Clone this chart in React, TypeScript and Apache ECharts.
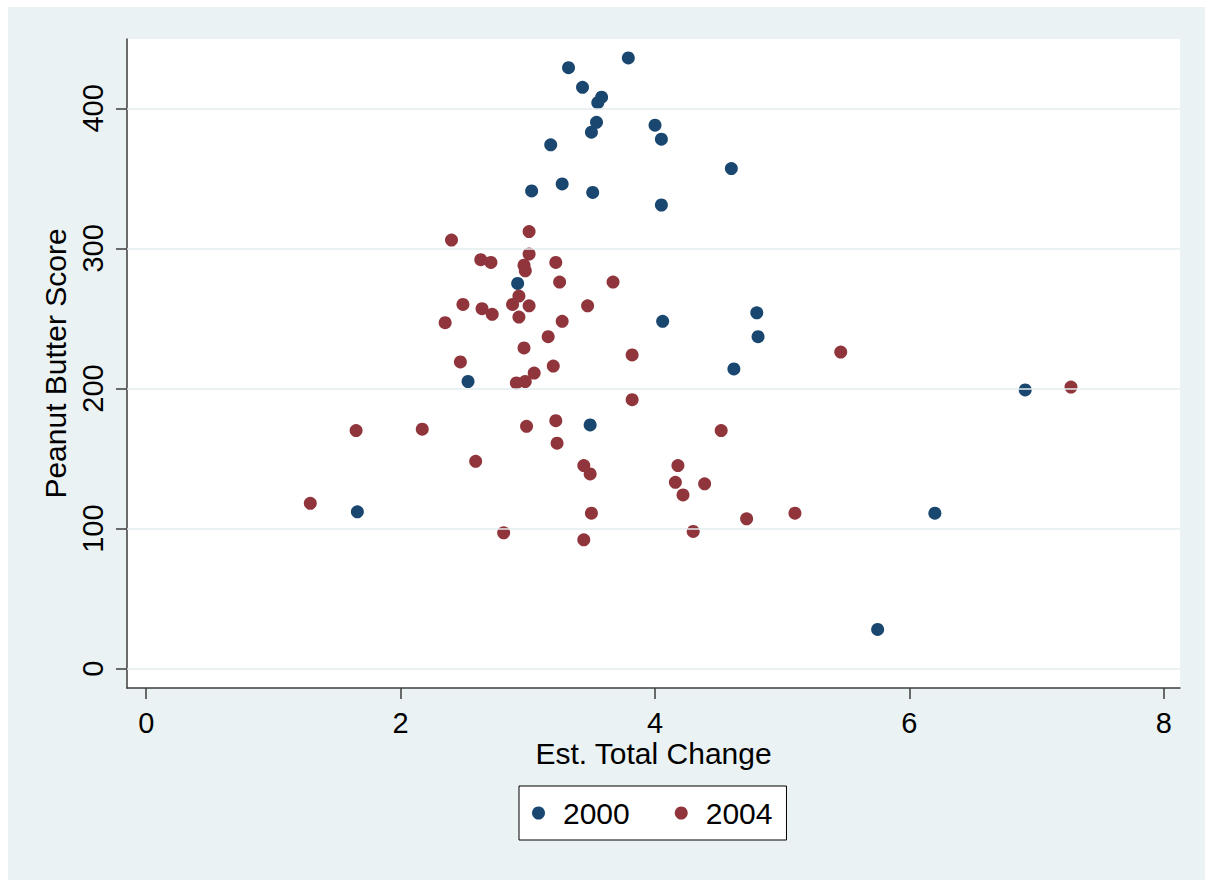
import React, { useEffect, useRef } from "react";
import * as echarts from "echarts";

const seriesNames = ["2000", "2004"];
const seriesColors = ["#1A476F", "#90353B"];

const points2000: [number, number][] = [
  [3.79, 436], [3.32, 429], [3.43, 415], [3.58, 408], [3.55, 404],
  [3.54, 390], [3.50, 383], [4.00, 388], [4.05, 378], [3.18, 374],
  [4.60, 357], [3.27, 346], [3.03, 341], [3.51, 340], [4.05, 331],
  [2.92, 275], [4.80, 254], [4.06, 248], [4.81, 237], [4.62, 214],
  [2.53, 205], [6.91, 199], [3.49, 174], [1.66, 112], [6.20, 111],
  [5.75, 28],
];

const points2004: [number, number][] = [
  [3.01, 312], [2.40, 306], [2.63, 292], [2.71, 290], [3.01, 296],
  [2.97, 288], [2.98, 284], [3.22, 290], [3.25, 276], [3.67, 276],
  [2.93, 266], [2.88, 260], [3.01, 259], [2.49, 260], [2.64, 257],
  [2.72, 253], [2.35, 247], [2.93, 251], [3.27, 248], [3.47, 259],
  [3.16, 237], [2.97, 229], [2.47, 219], [3.20, 216], [3.05, 211],
  [2.98, 205], [2.91, 204], [3.82, 224], [3.82, 192], [1.65, 170],
  [2.17, 171], [2.99, 173], [3.22, 177], [3.23, 161], [4.52, 170],
  [2.59, 148], [3.44, 145], [3.49, 139], [4.18, 145], [4.16, 133],
  [4.39, 132], [4.22, 124], [1.29, 118], [3.50, 111], [4.72, 107],
  [2.81, 97], [3.44, 92], [4.30, 98], [5.10, 111], [5.46, 226],
  [7.27, 201],
];

const xTicks = [0, 2, 4, 6, 8];
const yTicks = [0, 100, 200, 300, 400];
const xRange = [-0.151, 8.127];
const yRange = [-13.8, 449.5];

const xTitle = "Est. Total Change";
const yTitle = "Peanut Butter Score";

const FONT = "'Liberation Sans', Arial, sans-serif";
const AXIS_COLOR = "#3c3c3c";

export default function App() {
  const ref = useRef<HTMLDivElement>(null);

  useEffect(() => {
    if (!ref.current) return;
    const chart = echarts.init(ref.current, null, { renderer: "svg" });
    const axisCommon = {
      axisLine: { show: true, onZero: false, lineStyle: { color: AXIS_COLOR, width: 1.5 } },
      axisTick: { show: true, length: 11, lineStyle: { color: AXIS_COLOR, width: 1.5 } },
      splitLine: { show: false },
      nameTextStyle: { fontFamily: FONT, fontSize: 30, color: "#000" },
      nameMoveOverlap: false,
    };
    chart.setOption({
      animation: false,
      backgroundColor: "#EAF2F3",
      textStyle: { fontFamily: FONT },
      grid: {
        left: 119,
        top: 32,
        right: 25,
        bottom: 192,
        show: true,
        backgroundColor: "#ffffff",
        borderWidth: 0,
      },
      xAxis: {
        type: "value",
        min: xRange[0],
        max: xRange[1],
        ...axisCommon,
        axisTick: { ...axisCommon.axisTick, customValues: xTicks },
        axisLabel: {
          customValues: xTicks,
          fontFamily: FONT,
          fontSize: 29,
          color: "#000",
          margin: 20,
        },
        name: xTitle,
        nameLocation: "middle",
        nameGap: 50,
      },
      yAxis: {
        type: "value",
        min: yRange[0],
        max: yRange[1],
        ...axisCommon,
        axisTick: { ...axisCommon.axisTick, customValues: yTicks },
        axisLabel: {
          customValues: yTicks,
          fontFamily: FONT,
          fontSize: 29,
          color: "#000",
          rotate: 90,
          margin: 20,
        },
        name: yTitle,
        nameLocation: "middle",
        nameGap: 57,
      },
      legend: {
        data: seriesNames,
        left: 511,
        top: 779,
        orient: "horizontal",
        backgroundColor: "#ffffff",
        borderColor: "#000000",
        borderWidth: 1,
        borderRadius: 0,
        padding: [12, 14, 12, 13],
        itemGap: 45,
        itemWidth: 13,
        itemHeight: 13,
        icon: "circle",
        formatter: (name: string) => "{a|" + name + "}",
        textStyle: {
          fontFamily: FONT,
          fontSize: 30,
          color: "#000",
          rich: { a: { fontFamily: FONT, fontSize: 30, color: "#000", padding: [0, 0, 0, 13] } },
        },
      },
      series: [
        {
          name: "grid",
          type: "scatter",
          data: [],
          z: 1,
          silent: true,
          markLine: {
            silent: true,
            symbol: "none",
            label: { show: false },
            lineStyle: { color: "#E3ECEE", width: 1.5, type: "solid" },
            data: yTicks.map((v) => ({ yAxis: v })),
          },
        },
        {
          name: seriesNames[0],
          type: "scatter",
          data: points2000,
          symbol: "circle",
          symbolSize: 13,
          itemStyle: { color: seriesColors[0], opacity: 1 },
          z: 3,
        },
        {
          name: seriesNames[1],
          type: "scatter",
          data: points2004,
          symbol: "circle",
          symbolSize: 13,
          itemStyle: { color: seriesColors[1], opacity: 1 },
          z: 3,
        },
      ],
    });
    return () => chart.dispose();
  }, []);

  return (
    <div
      ref={ref}
      style={{ position: "absolute", left: 8, top: 7, width: 1197, height: 873 }}
    />
  );
}
